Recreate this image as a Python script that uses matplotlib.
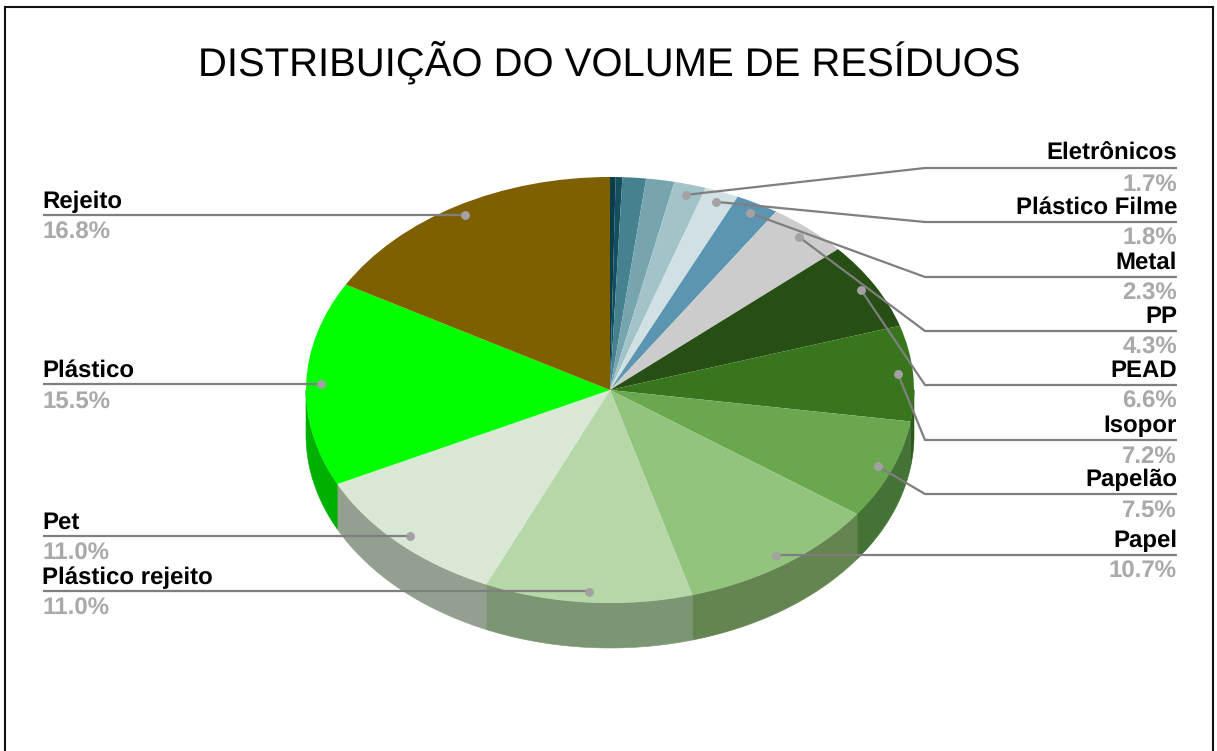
import numpy as np
import matplotlib
matplotlib.use("Agg")
import matplotlib.pyplot as plt
from matplotlib.patches import Polygon

plt.rcParams["text.hinting"] = "no_hinting"
plt.rcParams["text.hinting_factor"] = 1

# ---- data (clockwise from 12 o'clock)
names = ["", "", "", "", "Eletrônicos", "Plástico Filme", "Metal", "PP", "PEAD", "Isopor",
         "Papelão", "Papel", "Plástico rejeito", "Pet", "Plástico", "Rejeito"]
values = [0.3, 0.35, 1.25, 1.5, 1.7, 1.8, 2.3, 4.3, 6.62, 7.24, 7.54, 10.74, 11.04, 11.04, 15.52, 16.76]
top_colors = ["#0b3c49", "#134f5c", "#45818e", "#76a5af", "#a2c4c9", "#d0e0e3", "#5b95b1", "#cccccc",
              "#274e13", "#38761d", "#6aa84f", "#93c47d", "#b6d7a8", "#d9e8d5", "#00ff00", "#7f6000"]
side_colors = ["#08303a", "#0d3a44", "#32606a", "#587c84", "#7a9397", "#9ca8aa", "#446f85", "#999999",
               "#1d3a0e", "#2a5816", "#457335", "#648552", "#7c9673", "#94a08f", "#00b000", "#5f4800"]
label_y = {"Rejeito": 215, "Plástico": 384, "Pet": 536, "Plástico rejeito": 591, "Papel": 555,
           "Papelão": 494, "Isopor": 440, "PEAD": 385, "PP": 331, "Metal": 277,
           "Plástico Filme": 222, "Eletrônicos": 168}
left_labels = ["Rejeito", "Plástico", "Pet", "Plástico rejeito"]
title = "DISTRIBUIÇÃO DO VOLUME DE RESÍDUOS"

W, H = 1217, 751
CX, CY, RX, RY, DEPTH = 610, 390, 304, 213, 45
FONT = "Liberation Sans"


def ux(px):
    return (px - CX) / RX


def uy(py):
    return (CY - py) / RY


fig = plt.figure(figsize=(W / 100, H / 100), dpi=100, facecolor="white")
ax = fig.add_axes([0, 0, 1, 1])

# top face of the pie: unit circle stretched by the axes limits
ax.pie(values, startangle=90, counterclock=False, colors=top_colors, radius=1, center=(0, 0),
       wedgeprops=dict(linewidth=0.4, zorder=3), frame=True)
ax.set_aspect("auto")
ax.set_xlim(ux(0), ux(W))
ax.set_ylim(uy(H), uy(0))
ax.axis("off")

# side wall
d = DEPTH / RY
edges = np.concatenate([[0], np.cumsum(values)]) / np.sum(values) * 2 * np.pi
for a0, a1, c in zip(edges[:-1], edges[1:], side_colors):
    lo, hi = max(a0, np.pi / 2), min(a1, 3 * np.pi / 2)
    if hi <= lo:
        continue
    t = np.linspace(lo, hi, 80)
    xs, ys = np.sin(t), np.cos(t)
    pts = np.r_[np.c_[xs, ys], np.c_[xs[::-1], ys[::-1] - d]]
    ax.add_patch(Polygon(pts, closed=True, facecolor=c, edgecolor=c, linewidth=0.4, zorder=2))

# leaders and labels
LINE = "#7f7f7f"
for n, a0, a1 in zip(names, edges[:-1], edges[1:]):
    if not n:
        continue
    m = (a0 + a1) / 2
    dx, dy = 0.95 * np.sin(m), 0.95 * np.cos(m)
    ly = label_y[n]
    pct = f"{values[names.index(n)]:.1f}%"
    if n in left_labels:
        xs, ys, tx, ha = [ux(43), dx], [uy(ly), uy(ly)], 42.3, "left"
        off_a, off_b = -7, 24
    else:
        xs = [ux(1177), ux(925), dx]
        ys = [uy(ly), uy(ly), dy]
        if n == "Papel":
            xs = [ux(1177), dx]
            ys = [uy(ly), uy(ly)]
        tx, ha = 1177, "right"
        off_a, off_b = -8, 23
    ax.plot(xs, ys, color=LINE, lw=1.6, zorder=5, solid_capstyle="butt")
    ax.plot([dx], [dy], "o", ms=6.4, color="#a3a1a3", mew=0, zorder=6)
    ax.text(ux(tx), uy(ly + off_a), n, ha=ha, va="baseline", family=FONT, weight="bold",
            fontsize=17.2, color="#000000", zorder=7)
    ax.text(ux(tx), uy(ly + off_b), pct, ha=ha, va="baseline", family=FONT, weight="bold",
            fontsize=17.2, color="#a9a9a9", zorder=7)

ax.text(ux(609.5), uy(76), title, ha="center", va="baseline", family=FONT, fontsize=29.1,
        color="#000000", zorder=7)

# frame of the card: left, top and right edges only
ax.plot([ux(5), ux(5), ux(1213), ux(1213)], [uy(751), uy(7), uy(7), uy(751)], color="#111111",
        lw=1.5, zorder=8, solid_joinstyle="miter", clip_on=False)

fig.savefig("out.png", dpi=100, facecolor="white")
